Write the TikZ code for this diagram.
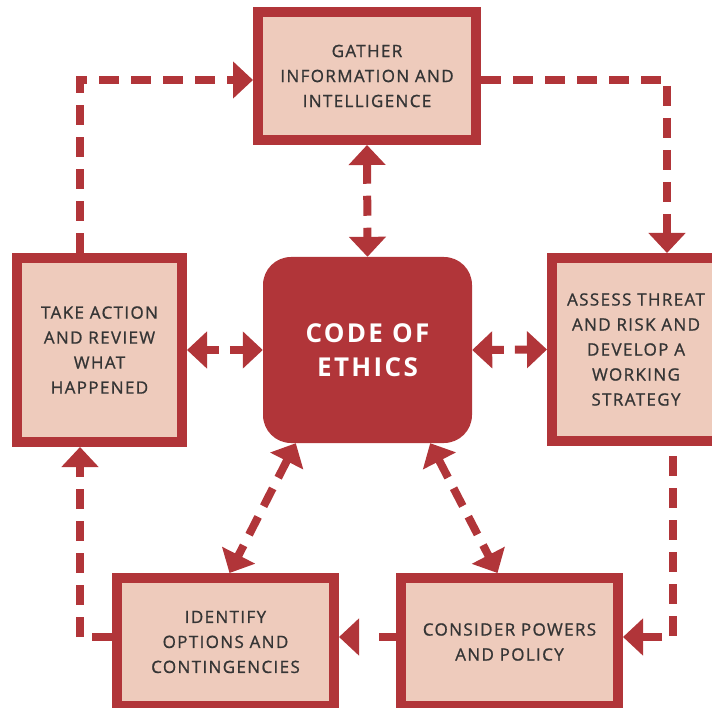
\documentclass[tikz,border=0pt]{standalone}
\usepackage{fontspec}
\setmainfont{Open Sans}
\newfontfamily\boxfont[LetterSpace=8,FakeBold=1]{Open Sans}
\newfontfamily\codefont[LetterSpace=9]{Open Sans}
\usetikzlibrary{arrows.meta,calc}
\definecolor{ered}{HTML}{B13539}
\definecolor{epink}{HTML}{EECBBC}
\definecolor{etext}{HTML}{353535}
\begin{document}
\begin{tikzpicture}[x=1pt,y=-1pt,
  stepbox/.style={draw=ered, line width=10pt, fill=epink, text=etext,
    font=\boxfont\fontsize{17}{25}\selectfont, align=center, inner sep=0pt},
  ethics/.style={fill=ered, rounded corners=28pt, text=white,
    font=\codefont\bfseries\fontsize{26}{34}\selectfont, align=center,
    minimum width=209pt, minimum height=186pt, inner sep=0pt},
  tip/.tip={Triangle[width=36pt,length=20pt]},
  flow/.style={draw=ered, line width=8pt, dash pattern=on 20pt off 12pt, -tip},
  both/.style={draw=ered, line width=8pt, dash pattern=on 20pt off 12pt, tip-tip},
]
\useasboundingbox (0,0) rectangle (712,708);
\clip (0,0) rectangle (712,708);

\node[stepbox, minimum width=218pt, minimum height=128pt] (gather) at (367,76)
  {GATHER\\INFORMATION AND\\INTELLIGENCE};
\node[stepbox, minimum width=165pt, minimum height=184pt] (take) at (99.5,350)
  {TAKE ACTION\\AND REVIEW\\WHAT\\HAPPENED};
\node[stepbox, minimum width=168pt, minimum height=183pt] (assess) at (636,349.5)
  {ASSESS THREAT\\AND RISK AND\\DEVELOP A\\WORKING\\STRATEGY};
\node[stepbox, minimum width=217pt, minimum height=128pt] (identify) at (225.5,642)
  {IDENTIFY\\OPTIONS AND\\CONTINGENCIES};
\node[stepbox, minimum width=217pt, minimum height=128pt] (consider) at (509.5,642)
  {CONSIDER POWERS\\AND POLICY};
\node[ethics] (code) at (367.5,350) {CODE OF\\ETHICS};

\coordinate (c1) at (80,80);
\coordinate (c2) at (667,80);
\coordinate (c3) at (673,637);
\coordinate (c4) at (80,637);

\draw[flow] (take.north -| c1) |- (gather.west |- c1);
\draw[flow] (gather.east |- c2) -| (assess.north -| c2);
\draw[flow, dash phase=22pt] (assess.south -| c3) |- (consider.east |- c3);
\draw[flow, dash pattern=on 17pt off 30pt] (consider.west |- c3) -- (identify.east |- c3);
\draw[flow] (identify.west |- c4) -| (take.south -| c4);

\draw[both] (gather.south) -- (code.north);
\draw[both, dash pattern=on 13pt off 11pt] (take.east) -- (code.west);
\draw[both, dash pattern=on 13pt off 11pt] (code.east) -- (assess.west);
\draw[both] ($(code.south west)+(33,0)$) -- ($(identify.north)+(4,0)$);
\draw[both] ($(code.south east)+(-42,0)$) -- ($(consider.north)+(-12,0)$);
\end{tikzpicture}
\end{document}
